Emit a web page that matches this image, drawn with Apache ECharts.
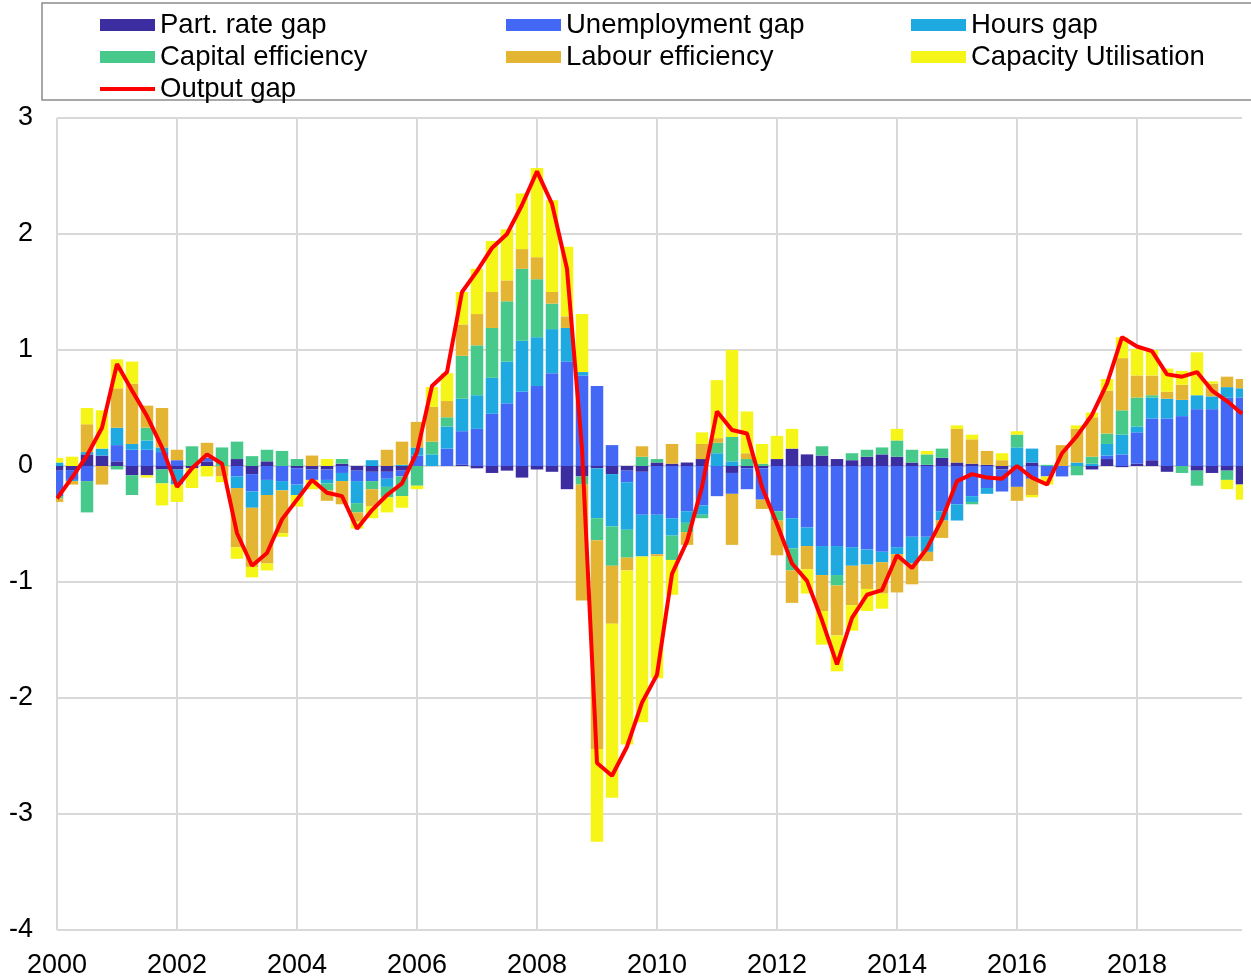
<!DOCTYPE html>
<html>
<head>
<meta charset="utf-8">
<title>Output gap decomposition</title>
<script src="https://cdn.jsdelivr.net/npm/echarts@6/dist/echarts.min.js"></script>
<style>
  html, body { margin: 0; padding: 0; background: #fff; }
  #chart { width: 1251px; height: 979px; }
</style>
</head>
<body>
<div id="chart"></div>
<script>
// quarterly, 2000Q1 - 2019Q4
var years = [2000, 2001, 2002, 2003, 2004, 2005, 2006, 2007, 2008, 2009,
  2010, 2011, 2012, 2013, 2014, 2015, 2016, 2017, 2018, 2019]
var quarters = ['Q1', 'Q2', 'Q3', 'Q4']
var categories = []
years.forEach(function (y) {
  quarters.forEach(function (q) { categories.push(y + q) })
})

var partRate = [-0.04, -0.035, 0.1, 0.09, 0.04, -0.08, -0.08, -0.03, -0.03, -0.02,
  0.04, 0, 0.06, -0.07, 0.04, 0, -0.02, -0.03, -0.03, 0.02,
  -0.04, -0.05, -0.05, -0.04, 0, 0, 0, 0.01, -0.02, -0.06,
  -0.04, -0.1, -0.03, -0.05, -0.2, -0.09, -0.02, -0.07, -0.04, -0.05,
  0.03, 0.02, 0.03, 0.06, 0, -0.06, -0.02, -0.02, 0.06, 0.15,
  0.1, 0.09, 0.06, 0.05, 0.08, 0.1, 0.08, 0.03, 0.01, 0.07,
  0.03, 0.02, 0.01, -0.03, 0, 0.03, 0, 0, 0, -0.03,
  0.06, -0.01, 0.02, 0.05, -0.05, 0, -0.04, -0.06, -0.04, -0.16]

var unemployment = [-0.22, -0.085, -0.13, 0, 0.14, 0.14, 0.14, 0.12, 0.05, 0,
  0.03, 0, -0.09, -0.15, -0.12, -0.13, -0.14, -0.09, -0.09, -0.06,
  -0.09, -0.08, -0.06, -0.05, 0.09, 0, 0.15, 0.29, 0.32, 0.45,
  0.54, 0.64, 0.69, 0.8, 0.9, 0.78, 0.69, 0.18, -0.1, -0.37,
  -0.42, -0.45, -0.39, -0.34, -0.26, -0.18, -0.18, -0.27, -0.39, -0.45,
  -0.53, -0.69, -0.69, -0.7, -0.72, -0.74, -0.7, -0.61, -0.61, -0.39,
  -0.33, -0.26, -0.19, -0.19, -0.18, -0.11, -0.09, -0.09, 0, 0,
  0.03, 0.1, 0.27, 0.36, 0.41, 0.43, 0.49, 0.49, 0.59, 0.59]

var hours = [0.03, -0.01, 0.02, 0.06, 0.15, 0.05, 0.08, 0.04, -0.13, 0,
  0, 0, -0.1, -0.14, -0.13, -0.08, -0.09, 0, -0.03, -0.07,
  -0.19, 0.05, -0.07, 0.01, 0.07, 0.1, 0.19, 0.28, 0.29, 0.31,
  0.36, 0.44, 0.42, 0.38, 0.29, 0.03, -0.43, -0.45, -0.41, -0.36,
  -0.34, -0.15, -0.1, -0.08, 0.11, 0.04, 0, 0, 0, -0.26,
  -0.16, -0.25, -0.25, -0.16, -0.13, -0.09, -0.06, -0.23, -0.13, -0.08,
  -0.14, -0.05, -0.05, 0, 0.16, 0.12, 0, 0, 0.03, 0.02,
  0.1, 0.17, 0.05, 0.18, 0.17, 0.14, 0.12, 0.11, 0.09, 0.08]

var capital = [-0.02, 0, -0.27, 0, -0.03, -0.17, 0.11, -0.12, 0, 0.17,
  0, 0.16, 0.15, 0.085, 0.1, 0.13, 0.06, 0, -0.06, 0.04,
  -0.08, -0.07, -0.09, -0.17, -0.17, 0.11, 0.08, 0.37, 0.43, 0.43,
  0.52, 0.62, 0.5, 0.22, 0, -0.07, -0.19, -0.34, -0.24, 0.08,
  0.03, -0.21, -0.08, -0.03, 0.09, 0.21, 0.06, 0.02, -0.08, -0.19,
  0, 0.08, -0.09, 0.06, 0.06, 0.06, 0.14, 0.11, 0.09, 0.08,
  0, -0.02, 0, 0, 0.11, 0, 0.01, 0, -0.08, 0.06,
  0.09, 0.21, 0.25, 0.02, 0, -0.06, -0.13, 0, -0.08, 0]

var labour = [-0.03, -0.03, 0.24, -0.16, 0.34, 0.52, 0.19, 0.34, 0.09, 0,
  0.13, -0.09, -0.51, -0.51, -0.59, -0.37, 0, 0.09, -0.09, -0.2,
  -0.08, -0.15, 0.14, 0.2, 0.22, 0.3, 0.14, 0.27, 0.27, 0.31,
  0.18, 0.17, 0.19, 0.1, 0.1, -1.0, -1.8, -0.5, -0.11, 0.09,
  -0.02, 0.17, -0.11, 0.13, 0.04, -0.44, 0.05, -0.08, -0.3, -0.28,
  -0.2, -0.31, -0.43, -0.34, -0.21, -0.27, -0.33, -0.18, -0.08, -0.15,
  0.29, 0.21, 0.12, 0.05, -0.12, -0.14, 0, 0.18, 0.29, 0.34,
  0.37, 0.45, 0.19, 0.17, 0.06, 0.13, 0, 0.11, 0.09, 0.08]

var capacity = [0.04, 0.08, 0.14, 0.33, 0.25, 0.19, -0.02, -0.19, -0.15, -0.17,
  -0.09, -0.05, -0.1, -0.09, -0.06, -0.03, -0.1, -0.08, 0.06, 0,
  -0.06, -0.1, -0.13, -0.1, -0.03, 0.17, 0.24, 0.28, 0.39, 0.44,
  0.44, 0.48, 0.77, 0.79, 0.6, 0.5, -0.8, -1.5, -1.5, -1.43,
  -1.05, -0.3, 0, 0.1, 0.5, 0.75, 0.36, 0.17, 0.2, 0.17,
  -0.21, -0.29, -0.31, -0.22, -0.19, -0.13, 0.1, 0, 0.03, 0,
  0.03, 0.04, 0, 0.06, 0.03, -0.02, -0.07, 0, 0.03, 0.04,
  0.1, 0.18, 0.23, 0.22, 0.2, 0.12, 0.37, 0.02, -0.08, -0.13]

var outputGap = [-0.28, -0.1, 0.09, 0.33, 0.88, 0.65, 0.43, 0.16, -0.18, -0.02,
  0.1, 0.02, -0.58, -0.86, -0.75, -0.46, -0.29, -0.12, -0.23, -0.26,
  -0.54, -0.38, -0.25, -0.15, 0.12, 0.69, 0.81, 1.5, 1.68, 1.88,
  2.0, 2.25, 2.54, 2.26, 1.7, 0.15, -2.56, -2.67, -2.42, -2.04,
  -1.8, -0.93, -0.65, -0.18, 0.47, 0.31, 0.28, -0.18, -0.5, -0.84,
  -0.99, -1.33, -1.71, -1.31, -1.11, -1.07, -0.77, -0.88, -0.71, -0.46,
  -0.13, -0.07, -0.1, -0.11, 0, -0.1, -0.16, 0.11, 0.26, 0.44,
  0.71, 1.11, 1.03, 0.99, 0.79, 0.77, 0.81, 0.65, 0.56, 0.45]

var chart = echarts.init(document.getElementById('chart'))
var font = 'Arial, "Liberation Sans", sans-serif'

function barSeries(name, data, color) {
  return {
    name: name,
    type: 'bar',
    stack: 'gap',
    data: data,
    barWidth: 12.5,
    itemStyle: { color: color }
  }
}

function legendAt(left, names) {
  return {
    orient: 'vertical',
    left: left,
    top: 11,
    padding: 0,
    itemGap: 4,
    itemWidth: 55,
    itemHeight: 12,
    textStyle: { fontSize: 27.5, fontFamily: font, color: '#000', lineHeight: 27 },
    data: names.map(function (n) {
      // line icon for the output gap, plain boxes for the bars
      return n === 'Output gap'
        ? { name: n, icon: 'path://M0,0h55v4h-55z' }
        : { name: n, icon: 'rect' }
    })
  }
}

chart.setOption({
  animation: false,
  graphic: [
    {
      type: 'rect',
      shape: { x: 42, y: 3, width: 1215, height: 97 },
      style: { fill: 'none', stroke: '#8c8c8c', lineWidth: 1.5 }
    },
    // bars on the first and last quarter are cut at the plot edge
    { type: 'rect', z: 100, shape: { x: 38, y: 112, width: 18, height: 828 }, style: { fill: '#fff' } },
    { type: 'rect', z: 100, shape: { x: 1243, y: 112, width: 10, height: 828 }, style: { fill: '#fff' } }
  ],
  legend: [
    legendAt(100, ['Part. rate gap', 'Capital efficiency', 'Output gap']),
    legendAt(506, ['Unemployment gap', 'Labour efficiency']),
    legendAt(911, ['Hours gap', 'Capacity Utilisation'])
  ],
  grid: { left: 57, right: 9, top: 118, bottom: 45 },
  xAxis: {
    type: 'category',
    data: categories,
    boundaryGap: false,
    axisLine: { show: false },
    axisTick: { show: false },
    axisLabel: {
      interval: 7,
      margin: 22,
      fontSize: 27,
      fontFamily: font,
      color: '#000',
      formatter: function (v) { return v.slice(0, 4) }
    },
    splitLine: { show: true, interval: 7, lineStyle: { color: '#d9d9d9', width: 2 } }
  },
  yAxis: {
    type: 'value',
    min: -4,
    max: 3,
    interval: 1,
    axisLine: { show: false },
    axisTick: { show: false },
    axisLabel: { fontSize: 27, fontFamily: font, color: '#000', margin: 24 },
    splitLine: { lineStyle: { color: '#d9d9d9', width: 2 } }
  },
  series: [
    barSeries('Part. rate gap', partRate, '#3c2ea0'),
    barSeries('Unemployment gap', unemployment, '#4368f5'),
    barSeries('Hours gap', hours, '#1ea9e1'),
    barSeries('Capital efficiency', capital, '#46c98b'),
    barSeries('Labour efficiency', labour, '#e3b532'),
    barSeries('Capacity Utilisation', capacity, '#f5f518'),
    {
      name: 'Output gap',
      type: 'line',
      data: outputGap,
      symbol: 'none',
      z: 5,
      lineStyle: { color: '#ff0000', width: 4 },
      itemStyle: { color: '#ff0000' }
    }
  ]
})
</script>
</body>
</html>
